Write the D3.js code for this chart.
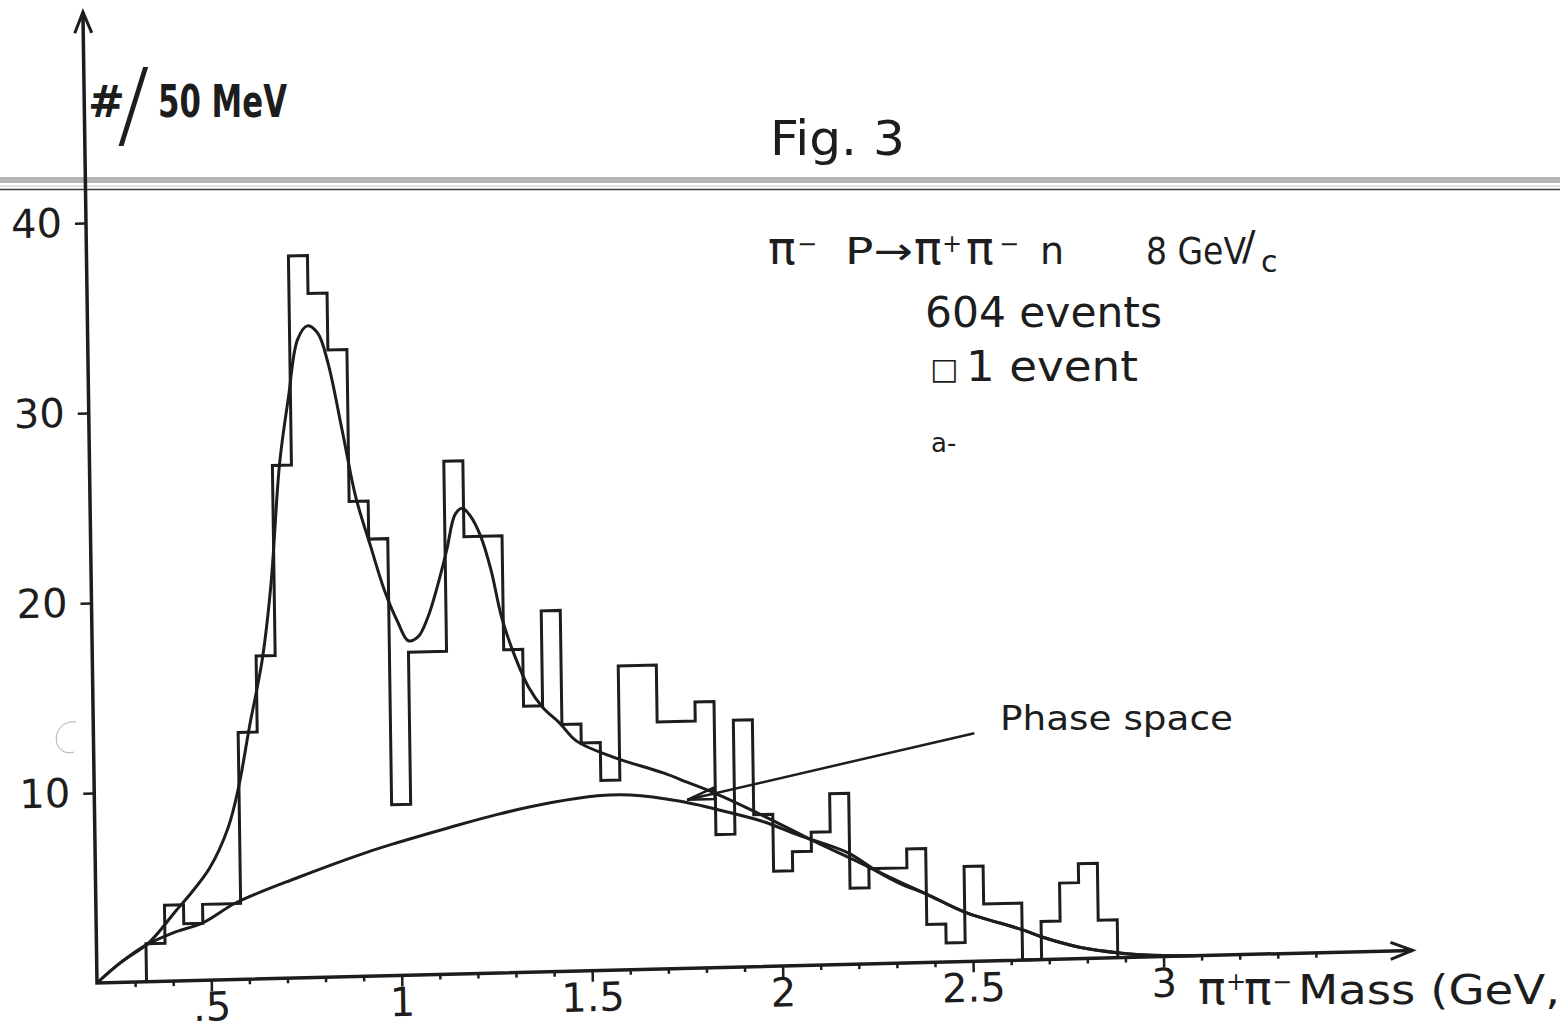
<!DOCTYPE html>
<html>
<head>
<meta charset="utf-8">
<script src="https://cdn.jsdelivr.net/npm/d3@7"></script>
<style>
  body { margin: 0; background: #fff; }
  svg { display: block; }
  text { fill: #1d1d1d; font-family: "DejaVu Sans", sans-serif; }
</style>
</head>
<body>
<svg id="chart" width="1560" height="1029"></svg>
<script>
"use strict";

//Histogram: 50 MeV bins, first bin edge
var binStart = 0.33;
var binWidth = 0.05;
var binCounts = [2, 4, 3, 4, 4, 13, 17, 27, 38, 36, 33, 25, 23, 9, 17, 17, 27, 23, 23, 17,
  14, 19, 13, 12, 10, 16, 16, 13, 13, 14, 7, 13, 8, 5, 6, 7, 9, 4, 5, 5,
  6, 2, 1, 5, 3, 3, 0, 2, 4, 5, 2];

//Fitted curve (resonances + background)
var fitMass = [0.20, 0.26, 0.34, 0.41, 0.45, 0.50, 0.55, 0.58, 0.61, 0.646, 0.672,
  0.699, 0.725, 0.751, 0.777, 0.804, 0.83, 0.864, 0.898, 0.935, 0.969,
  1.003, 1.03, 1.056, 1.082, 1.108, 1.134, 1.158, 1.177, 1.197, 1.224,
  1.25, 1.276, 1.31, 1.344, 1.381, 1.423, 1.468, 1.565, 1.696, 1.756,
  1.827, 1.958, 2.08, 2.22, 2.31, 2.38, 2.48, 2.63, 2.68, 2.78,
  2.885, 3.0, 3.1];
var fitCounts = [0, 1.0, 2.1, 3.7, 4.6, 5.9, 8.0, 10.2, 13.3, 16.8, 20.8,
  27.1, 30.6, 33.6, 34.3, 33.9, 32.3, 28.8, 25.2, 22.6, 20.3,
  18.6, 17.6, 17.8, 18.8, 20.4, 22.3, 24.2, 24.5, 24.1, 23.0,
  21.2, 18.7, 16.6, 15.0, 13.9, 13.1, 12.1, 11.2, 10.3, 9.8,
  9.2, 7.9, 6.6, 5.2, 4.2, 3.6, 2.6, 1.6, 1.2, 0.6,
  0.25, 0.05, 0];

//Phase space curve
var phaseMass = [0.20, 0.26, 0.331, 0.40, 0.481, 0.567, 0.733, 0.909, 0.995, 1.127,
  1.258, 1.40, 1.52, 1.607, 1.738, 1.869, 1.958, 2.045, 2.176, 2.255,
  2.38, 2.48, 2.63, 2.68, 2.78, 2.885, 3.0, 3.1];
var phaseCounts = [0, 1.0, 1.94, 2.53, 3.04, 4.03, 5.3, 6.5, 7.0, 7.7,
  8.35, 8.9, 9.2, 9.2, 8.8, 8.13, 7.6, 6.88, 5.87, 4.84,
  3.6, 2.6, 1.6, 1.2, 0.6, 0.25, 0.05, 0];

//Axis ticks
var xMajorTicks = [0.5, 1, 1.5, 2, 2.5, 3];
var xTickLabels = [".5", "1", "1.5", "2", "2.5", "3"];
var xMinorTicks = [0.3, 0.4, 0.6, 0.7, 0.8, 0.9, 1.1, 1.2, 1.3, 1.4, 1.6, 1.7, 1.8, 1.9,
  2.1, 2.2, 2.3, 2.4, 2.6, 2.7, 2.8, 2.9, 3.1, 3.2, 3.3, 3.4];
var yTicks = [10, 20, 30, 40];

//Phase space pointer (mass, count): label end -> tip on curve
var pointerFrom = [2.512, 12.0];
var pointerTo = [1.756, 8.87];

var ink = "#1d1d1d";
var svg = d3.select("#chart");

//Scan artefact: double line across the page
svg.append("rect").attr("x", 0).attr("y", 177).attr("width", 1560).attr("height", 6).attr("fill", "#b4b4b4");
svg.append("line").attr("x1", 0).attr("x2", 1560).attr("y1", 186).attr("y2", 186)
  .attr("stroke", "#d4d4d4").attr("stroke-width", 1.5);
svg.append("line").attr("x1", 0).attr("x2", 1560).attr("y1", 189.5).attr("y2", 189.5)
  .attr("stroke", "#3c3c3c").attr("stroke-width", 1.6);
svg.append("path").attr("d", "M76,722 C62,720 52,734 58,746 C61,752 68,754 74,752")
  .attr("fill", "none").attr("stroke", "#aaa").attr("stroke-width", 1);

//The scanned page is slightly skewed, so the plot frame is too
var a = 1.42 * Math.PI / 180, b = 0.83 * Math.PI / 180;
var g = svg.append("g")
  .attr("transform", "matrix(" + Math.cos(a) + "," + (-Math.sin(a)) + "," + Math.sin(b) + "," + Math.cos(b) + ",97,983)");

var x = d3.scaleLinear().domain([0.2, 3.654]).range([0, 1316]);
var y = d3.scaleLinear().domain([0, 51.1]).range([0, -971]);

//Minor x ticks
g.append("g")
  .call(d3.axisBottom(x).tickValues(xMinorTicks).tickSize(5).tickFormat(""))
  .call(function(s) { s.select(".domain").remove(); })
  .selectAll("line").attr("stroke", ink).attr("stroke-width", 2.5);

//Major x ticks with labels
var xAxis = g.append("g")
  .call(d3.axisBottom(x).tickValues(xMajorTicks).tickSize(11).tickPadding(1)
    .tickFormat(function(d, i) { return xTickLabels[i]; }));
xAxis.select(".domain").remove();
xAxis.selectAll("line").attr("stroke", ink).attr("stroke-width", 2.5);
xAxis.selectAll("text").attr("font-size", 40).attr("font-family", "DejaVu Sans").attr("fill", ink);

//Y ticks
var yAxis = g.append("g")
  .call(d3.axisLeft(y).tickValues(yTicks).tickSize(11).tickPadding(13));
yAxis.select(".domain").remove();
yAxis.selectAll("line").attr("stroke", ink).attr("stroke-width", 2.5);
yAxis.selectAll("text").attr("font-size", 40).attr("font-family", "DejaVu Sans").attr("fill", ink);

//Axis lines with open arrow heads
g.append("path")
  .attr("d", "M0," + y(51.1) + "V0H" + x(3.654))
  .attr("fill", "none").attr("stroke", ink).attr("stroke-width", 3.5);
g.append("path")
  .attr("d", "M-8.5," + (y(51.1) + 21) + "L0," + y(51.1) + "L8.5," + (y(51.1) + 21))
  .attr("fill", "none").attr("stroke", ink).attr("stroke-width", 3);
g.append("path")
  .attr("d", "M" + (x(3.654) - 22) + ",-8.5L" + x(3.654) + ",0L" + (x(3.654) - 22) + ",8.5")
  .attr("fill", "none").attr("stroke", ink).attr("stroke-width", 3);

//Histogram outline
var steps = [[binStart, 0]];
binCounts.forEach(function(c, i) {
  var lo = binStart + i * binWidth;
  steps.push([lo, c], [lo + binWidth, c]);
});
steps.push([binStart + binCounts.length * binWidth, 0]);

g.append("path")
  .datum(steps)
  .attr("d", d3.line().x(function(d) { return x(d[0]); }).y(function(d) { return y(d[1]); }))
  .attr("fill", "none").attr("stroke", ink).attr("stroke-width", 3).attr("stroke-linejoin", "miter");

//Smooth curves
var curveLine = d3.line()
  .curve(d3.curveCatmullRom.alpha(0.5))
  .x(function(d) { return x(d[0]); })
  .y(function(d) { return y(d[1]); });

g.append("path")
  .datum(phaseMass.map(function(m, i) { return [m, phaseCounts[i]]; }))
  .attr("d", curveLine)
  .attr("fill", "none").attr("stroke", ink).attr("stroke-width", 3);

g.append("path")
  .datum(fitMass.map(function(m, i) { return [m, fitCounts[i]]; }))
  .attr("d", curveLine)
  .attr("fill", "none").attr("stroke", ink).attr("stroke-width", 3);

//Pointer to the phase space curve
var p0 = [x(pointerFrom[0]), y(pointerFrom[1])], p1 = [x(pointerTo[0]), y(pointerTo[1])];
var ang = Math.atan2(p0[1] - p1[1], p0[0] - p1[0]);
g.append("line")
  .attr("x1", p0[0]).attr("y1", p0[1]).attr("x2", p1[0]).attr("y2", p1[1])
  .attr("stroke", ink).attr("stroke-width", 2.5);
g.append("path")
  .attr("d", "M" + p1[0] + "," + p1[1] +
    "L" + (p1[0] + 28 * Math.cos(ang + 0.2)) + "," + (p1[1] + 28 * Math.sin(ang + 0.2)) +
    "L" + (p1[0] + 28 * Math.cos(ang - 0.2)) + "," + (p1[1] + 28 * Math.sin(ang - 0.2)) + "Z")
  .attr("fill", "none").attr("stroke", ink).attr("stroke-width", 2.5);

//Texts
svg.append("text").attr("x", 88).attr("y", 117).attr("font-size", 44).attr("font-weight", "bold")
  .attr("font-family", "Liberation Sans").text("#");
svg.append("text").attr("x", 117).attr("y", 137).attr("font-size", 97).attr("font-weight", 300)
  .attr("font-family", "Lato").text("/");
svg.append("text").attr("x", 158).attr("y", 117).attr("font-size", 44).attr("font-weight", "bold")
  .attr("font-family", "Liberation Sans").attr("textLength", 129).attr("lengthAdjust", "spacingAndGlyphs")
  .text("50 MeV");

svg.append("text").attr("x", 770).attr("y", 155).attr("font-size", 48)
  .attr("font-family", "Liberation Sans").attr("textLength", 135).attr("lengthAdjust", "spacingAndGlyphs")
  .text("Fig. 3");

var reaction = svg.append("text").attr("y", 264).attr("font-size", 38);
reaction.append("tspan").attr("x", 768).attr("font-size", 46).text("π");
reaction.append("tspan").attr("x", 797).attr("dy", -12).attr("font-size", 24).text("−");
reaction.append("tspan").attr("x", 845).attr("dy", 12).attr("textLength", 68)
  .attr("lengthAdjust", "spacingAndGlyphs").text("P→");
reaction.append("tspan").attr("x", 914).attr("font-size", 46).text("π");
reaction.append("tspan").attr("x", 942).attr("dy", -12).attr("font-size", 24).text("+");
reaction.append("tspan").attr("x", 966).attr("dy", 12).attr("font-size", 46).text("π");
reaction.append("tspan").attr("x", 999).attr("dy", -12).attr("font-size", 24).text("−");
reaction.append("tspan").attr("x", 1040).attr("dy", 12).text("n");

var beam = svg.append("text").attr("y", 264).attr("font-size", 38);
beam.append("tspan").attr("x", 1146).attr("textLength", 100).attr("lengthAdjust", "spacingAndGlyphs").text("8 GeV");
beam.append("tspan").attr("x", 1242).attr("dy", -4).attr("font-size", 40).text("/");
beam.append("tspan").attr("x", 1261).attr("dy", 12).attr("font-size", 30).text("c");

svg.append("text").attr("x", 925).attr("y", 327).attr("font-size", 42)
  .attr("textLength", 237).attr("lengthAdjust", "spacingAndGlyphs").text("604 events");
svg.append("text").attr("x", 930).attr("y", 379).attr("font-size", 30).text("□");
svg.append("text").attr("x", 966).attr("y", 381).attr("font-size", 42)
  .attr("textLength", 172).attr("lengthAdjust", "spacingAndGlyphs").text("1 event");
svg.append("text").attr("x", 931).attr("y", 452).attr("font-size", 26).text("a-");

svg.append("text").attr("x", 1000).attr("y", 730).attr("font-size", 33)
  .attr("textLength", 233).attr("lengthAdjust", "spacingAndGlyphs").text("Phase  space");

var xTitle = svg.append("text").attr("y", 1004).attr("font-size", 40);
xTitle.append("tspan").attr("x", 1198).attr("font-size", 46).text("π");
xTitle.append("tspan").attr("x", 1226).attr("dy", -14).attr("font-size", 24).text("+");
xTitle.append("tspan").attr("x", 1244).attr("dy", 14).attr("font-size", 46).text("π");
xTitle.append("tspan").attr("x", 1272).attr("dy", -14).attr("font-size", 24).text("−");
xTitle.append("tspan").attr("x", 1298).attr("dy", 14).attr("textLength", 262)
  .attr("lengthAdjust", "spacingAndGlyphs").text("Mass (GeV,");
</script>
</body>
</html>
